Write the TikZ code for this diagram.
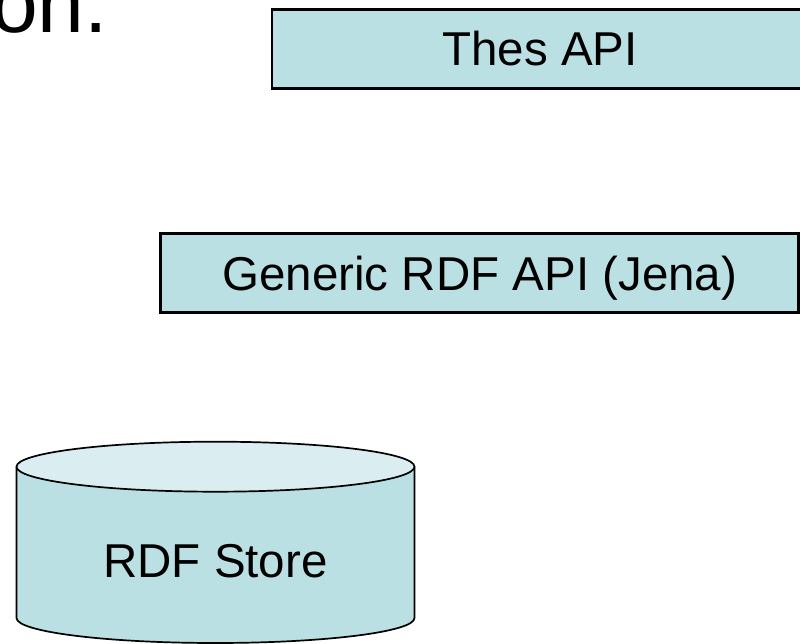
\documentclass[tikz,border=0pt]{standalone}
\usepackage{fontspec}
\setmainfont{Liberation Sans}
\definecolor{boxfill}{HTML}{BBE0E3}
\definecolor{topfill}{HTML}{DAEDF0}
\begin{document}
\begin{tikzpicture}[x=1pt,y=-1pt,
  apibox/.style={draw=black, line width=2.6pt, fill=boxfill, inner sep=0pt,
    font=\fontsize{47.5}{52}\selectfont, text height=34pt, text depth=0pt},
  cylline/.style={draw=black, line width=1.7pt},
  bigtitle/.style={font=\fontsize{84}{90}\selectfont, inner sep=0pt},
  storetext/.style={font=\fontsize{47.5}{52}\selectfont, inner sep=0pt}]
\useasboundingbox (0,0) rectangle (800,644);
\clip (0,0) rectangle (800,644);
% title fragment
\node[bigtitle, anchor=base west] (title) at (-9,33) {on.};
% boxes
\node[apibox, minimum width=536pt, minimum height=79pt] (thes) at (540,48.8) {Thes API};
\node[apibox, minimum width=638pt, minimum height=79pt] (jena) at (479.75,273.25) {Generic RDF API (Jena)};
% cylinder
\fill[boxfill] (16.5,466.7) -- (16.5,618) arc[start angle=180, end angle=360, x radius=199pt, y radius=25pt] -- (414.5,466.7) -- cycle;
\draw[cylline] (16.5,466.7) -- (16.5,618) arc[start angle=180, end angle=360, x radius=199pt, y radius=25pt] -- (414.5,466.7);
\draw[cylline, fill=topfill] (215.5,466.7) ellipse[x radius=199pt, y radius=25pt];
\node[storetext, anchor=base] (store) at (215.5,577) {RDF Store};
\end{tikzpicture}
\end{document}
